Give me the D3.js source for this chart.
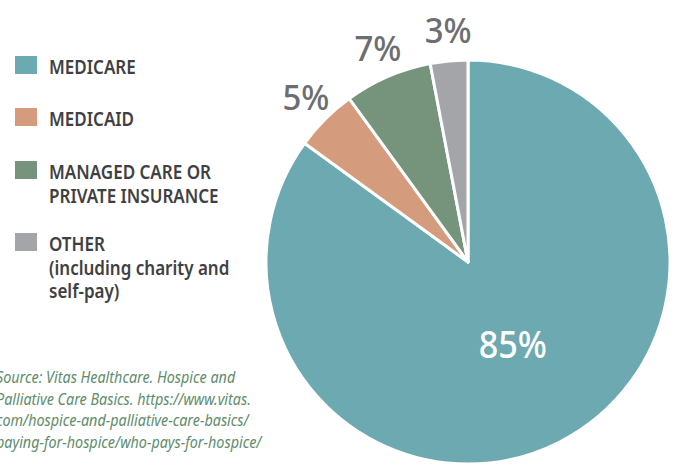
<!DOCTYPE html>
<html>
<head>
<meta charset="utf-8">
<script src="https://cdn.jsdelivr.net/npm/d3@7"></script>
<style>
    body { margin: 0; background: #fff; }
    svg { display: block; }
    text { font-family: "Noto Sans", "DejaVu Sans Condensed", sans-serif; }
</style>
</head>
<body>
<svg id="chart" width="675" height="466"></svg>
<script>
(function () {
    'use strict';

    // --- Data ----------------------------------------------------------

    var categories = ['MEDICARE', 'MEDICAID', 'MANAGED CARE OR PRIVATE INSURANCE', 'OTHER'];
    var shares = [85, 5, 7, 3];
    var sliceLabels = ['85%', '5%', '7%', '3%'];
    var legendLines = [
        ['MEDICARE'],
        ['MEDICAID'],
        ['MANAGED CARE OR', 'PRIVATE INSURANCE'],
        ['OTHER', '(including charity and', 'self-pay)']
    ];
    var colors = ['#6da9b0', '#d49c7c', '#76937b', '#a4a5a8'];
    var sourceLines = [
        'Source: Vitas Healthcare. Hospice and',
        'Palliative Care Basics. https://www.vitas.',
        'com/hospice-and-palliative-care-basics/',
        'paying-for-hospice/who-pays-for-hospice/'
    ];

    var svg = d3.select('#chart');
    var cx = 468, cy = 262, radius = 202;

    // no condensed face installed, so squeeze the glyphs horizontally
    function squeeze(x, y, s) {
        return 'translate(' + x + ',' + y + ') scale(' + s + ',1)';
    }

    // --- Pie -----------------------------------------------------------

    var pie = d3.pie().sort(null).value(function (d) { return d; });
    var arcs = pie(shares);
    var arc = d3.arc().innerRadius(0).outerRadius(radius);

    var pieG = svg.append('g').attr('transform', 'translate(' + cx + ',' + cy + ')');

    pieG.selectAll('path')
        .data(arcs)
        .enter().append('path')
        .attr('d', arc)
        .attr('fill', function (d, i) { return colors[i]; })
        .attr('stroke', '#fff')
        .attr('stroke-width', 3)
        .attr('stroke-linejoin', 'round');

    // big label inside the first slice, the rest outside
    var inner = d3.arc().innerRadius(92).outerRadius(92);
    var outer = d3.arc().innerRadius(232).outerRadius(232);

    pieG.selectAll('text.pct')
        .data(arcs)
        .enter().append('text')
        .attr('class', 'pct')
        .attr('text-anchor', 'middle')
        .attr('font-size', function (d, i) { return i === 0 ? 38 : 34; })
        .attr('font-weight', 500)
        .attr('fill', function (d, i) { return i === 0 ? '#fff' : '#6d6e71'; })
        .attr('transform', function (d, i) {
            var c = i === 0 ? inner.centroid(d) : outer.centroid(d);
            return squeeze(c[0] + (i === 0 ? 3 : 2), c[1] + (i === 0 ? 14 : 12), i === 0 ? 0.9 : 0.97);
        })
        .text(function (d, i) { return sliceLabels[i]; });

    // --- Legend --------------------------------------------------------

    var legendTop = [56, 108, 161, 233];
    var legend = svg.append('g');

    categories.forEach(function (name, i) {
        var g = legend.append('g').attr('transform', 'translate(15,' + legendTop[i] + ')');
        g.append('rect')
            .attr('width', 22).attr('height', 18)
            .attr('fill', colors[i]);
        g.selectAll('text')
            .data(legendLines[i])
            .enter().append('text')
            .attr('transform', function (d, j) { return squeeze(34, 18 + j * 23.5, 0.83); })
            .attr('font-size', 20.5)
            .attr('font-weight', 600)
            .attr('fill', '#3f4042')
            .text(function (d) { return d; });
    });

    // --- Source note ---------------------------------------------------

    svg.append('g').selectAll('text')
        .data(sourceLines)
        .enter().append('text')
        .attr('transform', function (d, i) { return squeeze(-4, 383 + i * 21.7, 0.87); })
        .attr('font-size', 16.5)
        .attr('font-style', 'italic')
        .attr('fill', '#5e8c6c')
        .text(function (d) { return d; });
}());
</script>
</body>
</html>
